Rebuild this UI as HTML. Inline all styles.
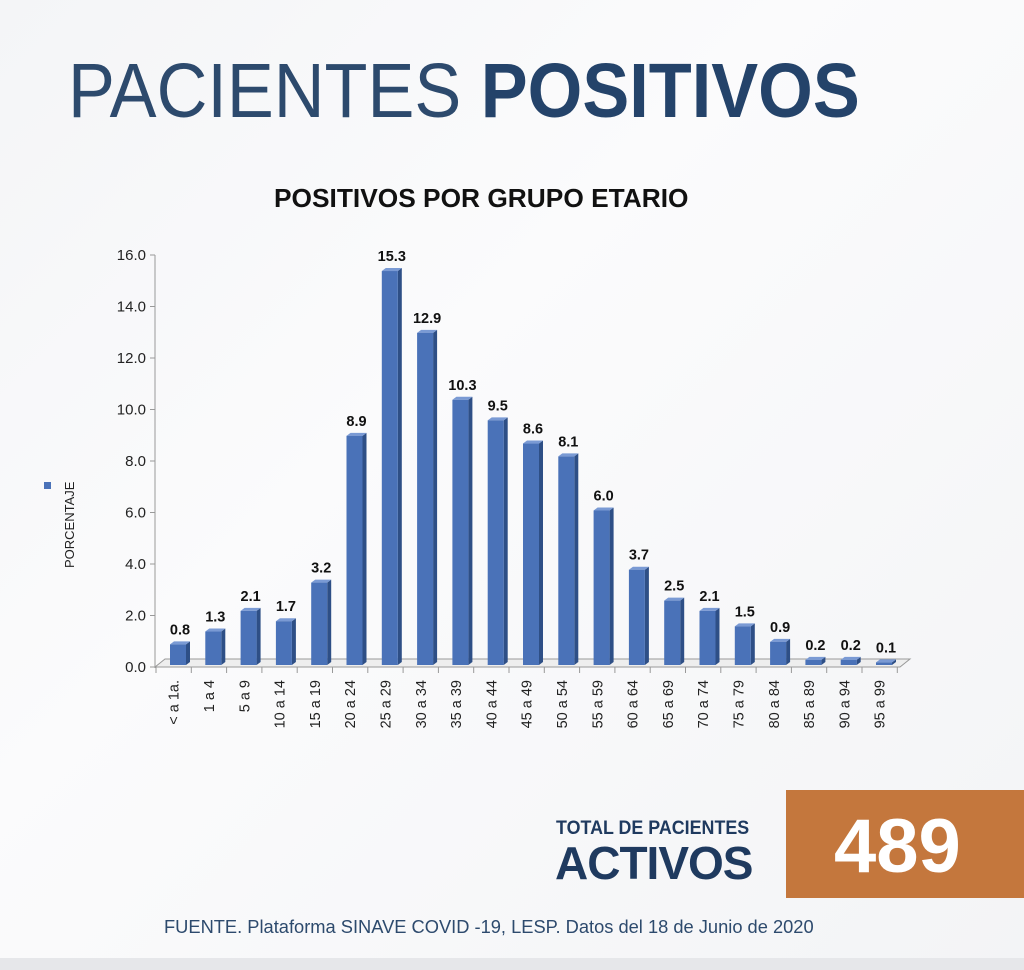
<!DOCTYPE html>
<html><head><meta charset="utf-8"><style>
html,body{margin:0;padding:0}
body{width:1024px;height:970px;position:relative;overflow:hidden;background:linear-gradient(135deg,#f4f5f7 0%,#fbfbfc 40%,#f3f4f6 100%);font-family:"Liberation Sans",sans-serif}
.t{position:absolute;white-space:nowrap}
</style></head><body>
<div class="t" style="left:68px;top:46px;font-size:77px;color:#2d4a6d;line-height:90px;transform:scaleX(0.913);transform-origin:0 0"><span style="font-weight:normal">PACIENTES </span><b style="color:#24436a">POSITIVOS</b></div>
<div class="t" style="left:274px;top:183px;font-size:26.3px;font-weight:bold;color:#111">POSITIVOS POR GRUPO ETARIO</div>
<svg width="1024" height="970" style="position:absolute;left:0;top:0" font-family="Liberation Sans, sans-serif">
</svg>
<div style="position:absolute;left:786px;top:790px;width:238px;height:108px;background:#c4773d"></div>
<div class="t" style="left:834px;top:802px;font-size:76px;font-weight:bold;color:#fff;line-height:90px">489</div>
<div class="t" style="left:556px;top:818px;font-size:19px;font-weight:bold;color:#1f3a5f;transform:scaleX(0.94);transform-origin:0 0">TOTAL DE PACIENTES</div>
<div class="t" style="left:555px;top:836px;font-size:46px;font-weight:bold;color:#1f3a5f;letter-spacing:-1px">ACTIVOS</div>
<div class="t" style="left:164px;top:916px;font-size:18.3px;color:#2d4a6d">FUENTE. Plataforma SINAVE COVID -19, LESP. Datos del 18 de Junio de 2020</div>
<div style="position:absolute;left:0;top:958px;width:1024px;height:12px;background:#e6e7ea"></div>
<script>
var s=document.querySelector('svg'),h='';
var v=[0.8,1.3,2.1,1.7,3.2,8.9,15.3,12.9,10.3,9.5,8.6,8.1,6.0,3.7,2.5,2.1,1.5,0.9,0.2,0.2,0.1];
var L=['< a 1a.','1 a 4','5 a 9','10 a 14','15 a 19','20 a 24','25 a 29','30 a 34','35 a 39','40 a 44','45 a 49','50 a 54','55 a 59','60 a 64','65 a 69','70 a 74','75 a 79','80 a 84','85 a 89','90 a 94','95 a 99'];
var y0=667,k=25.75,x0=156,p=35.3;
h+='<line x1="155" y1="255" x2="155" y2="668" stroke="#999"/>';
h+='<polyline points="155,667 165,659 910,659 900,667 155,667" fill="#eee" stroke="#999"/>';
for(var i=0;i<=8;i++){var y=y0-i*2*k;h+='<line x1="150" y1="'+y+'" x2="155" y2="'+y+'" stroke="#999"/><text x="146" y="'+(y+5)+'" font-size="15" text-anchor="end" fill="#222">'+(i*2).toFixed(1)+'</text>';}
for(var i=0;i<=21;i++){var x=x0+i*p;h+='<line x1="'+x+'" y1="667" x2="'+x+'" y2="673" stroke="#999"/>';}
v.forEach(function(d,i){var x=x0+i*p+14,w=16,t=y0-2-d*k,b=y0-2;
h+='<polygon points="'+(x+w)+','+t+' '+(x+w+4)+','+(t-3)+' '+(x+w+4)+','+(b-3)+' '+(x+w)+','+b+'" fill="#2e4f86"/>';
h+='<polygon points="'+x+','+t+' '+(x+4)+','+(t-3)+' '+(x+w+4)+','+(t-3)+' '+(x+w)+','+t+'" fill="#7a9ad4"/>';
h+='<rect x="'+x+'" y="'+t+'" width="'+w+'" height="'+(b-t)+'" fill="#4a72b8"/>';
h+='<text x="'+(x+10)+'" y="'+(t-10)+'" font-size="14.5" font-weight="bold" text-anchor="middle" fill="#111">'+d.toFixed(1)+'</text>';
var cx=x0+i*p+p/2+5;h+='<text transform="translate('+cx+',680) rotate(-90)" font-size="14.5" text-anchor="end" fill="#222">'+L[i].replace('<','&lt;')+'</text>';});
h+='<rect x="44" y="482" width="7" height="7" fill="#4a72b8"/><text transform="translate(74,568) rotate(-90)" font-size="13" fill="#222">PORCENTAJE</text>';
s.innerHTML+=h;
</script>
</body></html>
